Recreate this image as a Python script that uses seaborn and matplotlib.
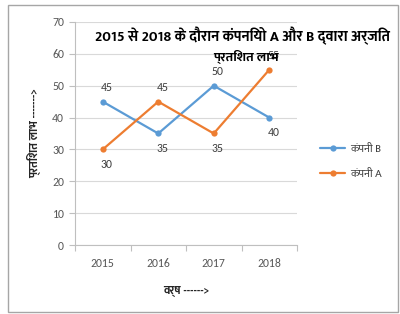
import matplotlib
matplotlib.use("Agg")
import matplotlib.pyplot as plt
import seaborn as sns
import pandas as pd
from matplotlib.patches import Rectangle

years = ["2015", "2016", "2017", "2018"]
company_b = [45, 35, 50, 40]
company_a = [30, 45, 35, 55]
series_names = ["कंपनी B", "कंपनी A"]
y_ticks = [0, 10, 20, 30, 40, 50, 60, 70]

title1 = "2015 से 2018 के दौरान कंपनियो A और B द्वारा अर्जित"
title2 = "प्रतिशत लाभ"
ylabel = "प्रतिशत लाभ ------->"
xlabel = "वर्ष ------>"

sns.set_theme(style="white")
DEV = ["Ek Mukta", "Mukta", "Noto Sans Devanagari", "DejaVu Sans"]
LAT = ["Carlito", "Liberation Sans", "DejaVu Sans"]
plt.rcParams["font.family"] = LAT

df = pd.DataFrame({
    "pos": list(range(len(years))) * 2,
    "value": company_b + company_a,
    "company": [series_names[0]] * len(years) + [series_names[1]] * len(years),
})

colors = {series_names[0]: "#5B9BD5", series_names[1]: "#ED7D31"}

fig = plt.figure(figsize=(4, 3.14), dpi=100)
ax = fig.add_axes([0.1875, 0.2197, 0.555, 0.7103])

sns.lineplot(data=df, x="pos", y="value", hue="company", hue_order=series_names,
             palette=colors, marker="o", markersize=4.5, markeredgewidth=0,
             linewidth=1.6, ax=ax, legend=True)

ax.set_xlim(-0.5, len(years) - 0.5)
ax.set_ylim(0, 70)
ax.set_yticks(y_ticks)
ax.set_yticklabels([str(t) for t in y_ticks], color="#595959", fontsize=8.5)
ax.set_xticks(range(len(years)))
ax.set_xticklabels(years, color="#595959", fontsize=8.5)
ax.tick_params(axis="x", length=0, pad=9)
ax.tick_params(axis="y", length=4, width=0.8, color="#BFBFBF", left=True, pad=4)
ax.set_xticks([i - 0.5 for i in range(len(years) + 1)], minor=True)
ax.tick_params(axis="x", which="minor", length=4, width=0.8, color="#BFBFBF", bottom=True)
ax.grid(axis="y", color="#D9D9D9", linewidth=0.8)
ax.grid(axis="x", visible=False)
for s in ["top", "right"]:
    ax.spines[s].set_visible(False)
for s in ["left", "bottom"]:
    ax.spines[s].set_color("#BFBFBF")
    ax.spines[s].set_linewidth(0.8)
ax.set_xlabel(xlabel, family=DEV, fontsize=8.5, fontweight="bold", labelpad=12)
ax.set_ylabel(ylabel, family=DEV, fontsize=8.5, fontweight="bold", labelpad=8)

for i in range(len(years)):
    vals = [company_b[i], company_a[i]]
    for v in vals:
        above = v == max(vals)
        ax.annotate(str(v), (i, v), xytext=(3, 6 if above else -7),
                    textcoords="offset points", ha="center",
                    va="bottom" if above else "top", fontsize=8.5, color="#404040")

leg = ax.legend(loc="center left", bbox_to_anchor=(1.06, 0.375), frameon=False,
                handlelength=2.2, labelspacing=1.3, handletextpad=0.5,
                prop={"family": DEV, "size": 8})
for t in leg.get_texts():
    t.set_color("#404040")

fig.text(0.606, 0.887, title1, family=DEV, fontsize=10.5, fontweight="bold",
         ha="center", va="center", color="#000000")
fig.text(0.615, 0.818, title2, family=DEV, fontsize=9.5, fontweight="bold",
         ha="center", va="center", color="#000000")

fig.patches.append(Rectangle((8 / 400, 2 / 314), 390 / 400, 307 / 314,
                             transform=fig.transFigure, fill=False,
                             edgecolor="#A6A6A6", linewidth=1))

fig.savefig("out.png", dpi=100)
